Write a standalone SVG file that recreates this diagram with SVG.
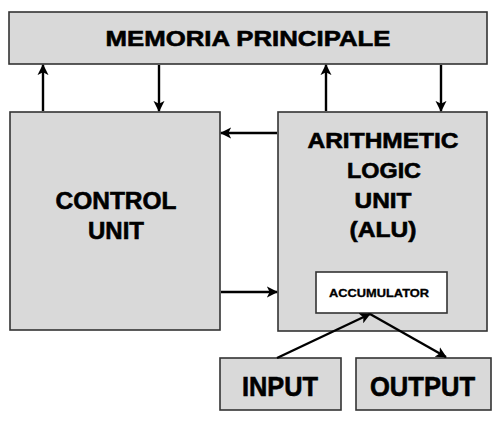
<svg xmlns="http://www.w3.org/2000/svg" width="500" height="422" viewBox="0 0 500 422">
<style>
.box{fill:#d9d9d9;stroke:#333;stroke-width:1.6}
.wbox{fill:#fff;stroke:#333;stroke-width:1.6}
.t{font-family:"Liberation Sans",Arial,sans-serif;font-weight:bold;fill:#000;stroke:#000;stroke-width:0.6;text-anchor:middle}
.s{stroke-width:0.3}
.c{stroke:#000;stroke-width:2.4;fill:none;marker-end:url(#ah)}
</style>
<defs>
<marker id="ah" viewBox="0 0 12 12" refX="11" refY="6" markerWidth="4.6" markerHeight="4.8" markerUnits="strokeWidth" orient="auto">
<path d="M0,0 L12,6 L0,12 L3,6 Z" fill="#000"/>
</marker>
</defs>
<rect width="500" height="422" fill="#fff"/>
<g id="memoria">
<rect class="box" x="9" y="12" width="478" height="52"/>
<text class="t" x="248" y="46" font-size="22.5" textLength="285" lengthAdjust="spacingAndGlyphs">MEMORIA PRINCIPALE</text>
</g>
<g id="control">
<rect class="box" x="10" y="112" width="210" height="218"/>
<text class="t" x="116" y="209" font-size="24" textLength="121" lengthAdjust="spacingAndGlyphs">CONTROL</text>
<text class="t" x="116" y="239" font-size="24" textLength="56" lengthAdjust="spacingAndGlyphs">UNIT</text>
</g>
<g id="alu">
<rect class="box" x="278" y="112" width="209" height="219"/>
<text class="t" x="383" y="148" font-size="22.5" textLength="151" lengthAdjust="spacingAndGlyphs">ARITHMETIC</text>
<text class="t" x="384" y="178" font-size="22.5" textLength="74" lengthAdjust="spacingAndGlyphs">LOGIC</text>
<text class="t" x="383" y="208" font-size="22.5" textLength="57" lengthAdjust="spacingAndGlyphs">UNIT</text>
<text class="t" x="383" y="237" font-size="22.5" textLength="67" lengthAdjust="spacingAndGlyphs">(ALU)</text>
</g>
<g id="accumulator">
<rect class="wbox" x="316" y="272" width="131" height="41"/>
<text class="t s" x="379" y="297" font-size="11" textLength="100" lengthAdjust="spacingAndGlyphs">ACCUMULATOR</text>
</g>
<g id="input">
<rect class="box" x="220" y="358" width="121" height="52"/>
<text class="t" x="280" y="396" font-size="27" textLength="76" lengthAdjust="spacingAndGlyphs">INPUT</text>
</g>
<g id="output">
<rect class="box" x="356" y="358" width="135" height="52"/>
<text class="t" x="422.5" y="396" font-size="27" textLength="105" lengthAdjust="spacingAndGlyphs">OUTPUT</text>
</g>
<g id="connectors">
<line class="c" x1="43" y1="111" x2="43" y2="65"/>
<line class="c" x1="159" y1="65" x2="159" y2="111"/>
<line class="c" x1="326" y1="111" x2="326" y2="65"/>
<line class="c" x1="441" y1="65" x2="441" y2="111"/>
<line class="c" x1="277" y1="133" x2="221" y2="133"/>
<line class="c" x1="221" y1="292" x2="277" y2="292"/>
<line class="c" x1="277" y1="358" x2="370" y2="314"/>
<line class="c" x1="370" y1="314" x2="446" y2="357"/>
</g>
</svg>
